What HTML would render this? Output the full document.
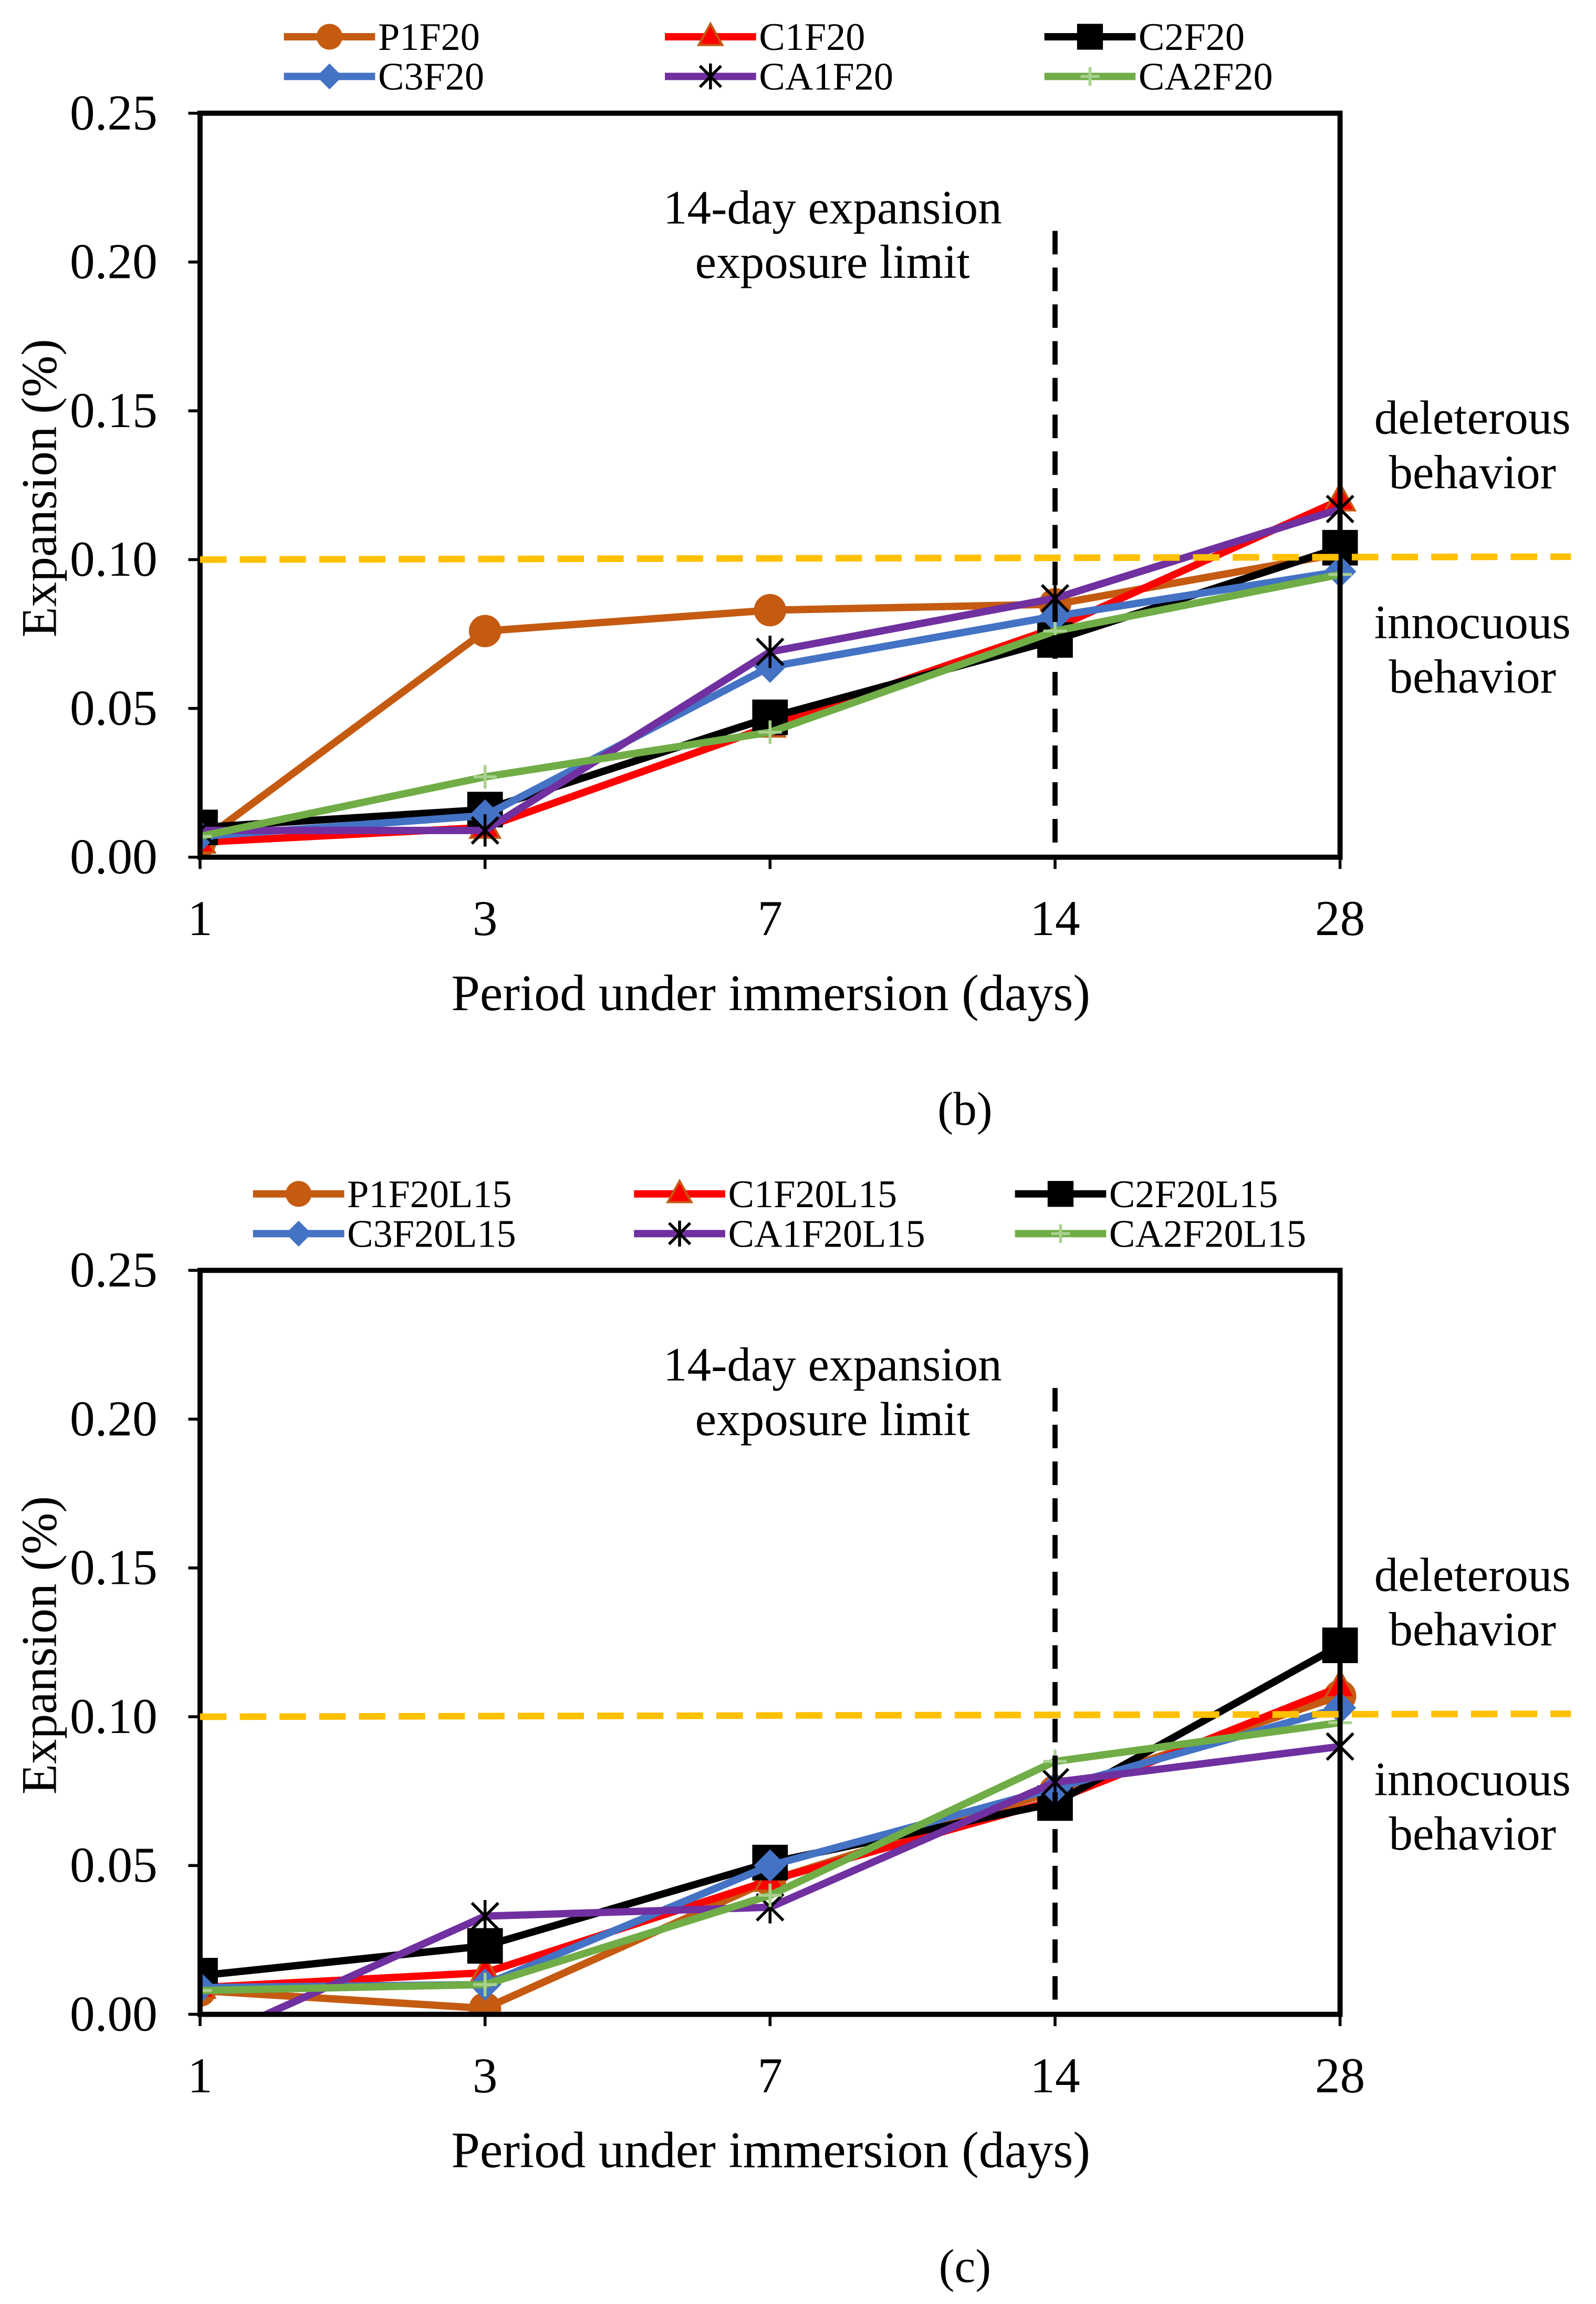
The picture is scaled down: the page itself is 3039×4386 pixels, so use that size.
<!DOCTYPE html>
<html><head><meta charset="utf-8"><style>
html,body{margin:0;padding:0;background:#fff}
svg{display:block}
text{font-family:"Liberation Serif",serif;fill:#000}
</style></head><body>
<svg id="root" width="3039" height="4386" viewBox="0 0 1085 1567" preserveAspectRatio="none" xmlns="http://www.w3.org/2000/svg"></svg>
<script>
const categories = ["1","3","7","14","28"];
const yTicks = [0,0.05,0.10,0.15,0.20,0.25];
const yTickLabels = ["0.00","0.05","0.10","0.15","0.20","0.25"];
const seriesNamesB = ["P1F20","C1F20","C2F20","C3F20","CA1F20","CA2F20"];
const seriesNamesC = ["P1F20L15","C1F20L15","C2F20L15","C3F20L15","CA1F20L15","CA2F20L15"];
const p1B = [0.005,0.076,0.083,0.085,0.102];
const c1B = [0.005,0.010,0.044,0.077,0.120];
const c2B = [0.010,0.016,0.047,0.073,0.104];
const c3B = [0.007,0.014,0.064,0.081,0.096];
const ca1B = [0.009,0.009,0.069,0.087,0.117];
const ca2B = [0.007,0.027,0.042,0.076,0.095];
const p1C = [0.008,0.002,0.045,0.075,0.107];
const c1C = [0.009,0.014,0.045,0.072,0.110];
const c2C = [0.013,0.023,0.051,0.071,0.124];
const c3C = [0.009,0.010,0.050,0.076,0.103];
const ca1C = [-0.010,0.033,0.036,0.078,0.090];
const ca2C = [0.008,0.010,0.040,0.085,0.098];
const limitValue = 0.10;
const limitDayIndex = 3;

const styles = [
 {c:"#C55A11",m:"circle"},{c:"#FF0000",m:"triangle"},{c:"#000000",m:"square"},
 {c:"#4472C4",m:"diamond"},{c:"#7030A0",m:"star"},{c:"#70AD47",m:"plus"}];
const NS="http://www.w3.org/2000/svg";
const root=document.getElementById('root');
function el(tag,attrs,parent,text){const e=document.createElementNS(NS,tag);for(const k in attrs)e.setAttribute(k,attrs[k]);if(text!==undefined)e.textContent=text;(parent||root).appendChild(e);return e;}
function marker(g,type,x,y,col,s){
 s=s||1;let e;
 if(type==="circle")e=el("circle",{cx:x,cy:y,r:11*s,fill:col},g);
 else if(type==="triangle")e=el("polygon",{points:`${x},${y-11*s} ${x+10*s},${y+7*s} ${x-10*s},${y+7*s}`,fill:col,stroke:"#C55A11","stroke-width":1.5},g);
 else if(type==="square")e=el("rect",{x:x-11*s,y:y-11*s,width:22*s,height:22*s,fill:col},g);
 else if(type==="diamond")e=el("polygon",{points:`${x},${y-11*s} ${x+11*s},${y} ${x},${y+11*s} ${x-11*s},${y}`,fill:col},g);
 else if(type==="star"){e=el("path",{d:`M${x-9*s},${y-9*s}L${x+9*s},${y+9*s}M${x+9*s},${y-9*s}L${x-9*s},${y+9*s}M${x},${y-11*s}L${x},${y+11*s}`,stroke:"#000","stroke-width":2},g);}
 else if(type==="plus"){e=el("path",{d:`M${x-8*s},${y}L${x+8*s},${y}M${x},${y-8*s}L${x},${y+8*s}`,stroke:"#A9D18E","stroke-width":2},g);}
 return e;
}
function chart(oy,names,data,legX,label,id){
 const g=el("g",{},root);
 
 
 const x0=136,x1=911,yTop=77+oy,yBot=583+oy;
 const xs=i=>x0+i*(x1-x0)/(categories.length-1);
 const ys=v=>yBot-(v/0.25)*(yBot-yTop);
 const clipId="clip"+id;
 const cp=el("clipPath",{id:clipId},g);el("rect",{x:x0,y:yTop-20,width:x1-x0+20,height:yBot-yTop+20},cp);
 names.forEach((n,i)=>{
  const row=Math.floor(i/3),col=i%3;const lx=legX[col],ly=25+oy+row*27;
  const lg=el("g",{},g);
  
  
  el("line",{x1:lx,y1:ly,x2:lx+62,y2:ly,stroke:styles[i].c,"stroke-width":5},lg);
  marker(lg,styles[i].m,lx+31,ly,styles[i].c,0.8);
  el("text",{x:lx+64,y:ly+9,"font-size":26.5},lg,n);
 });
 yTicks.forEach((t,i)=>{const y=ys(t);el("line",{x1:x0-8,y1:y,x2:x0,y2:y,stroke:"#000","stroke-width":2},g);
  const tx=el("text",{x:x0-29,y:y+11,"font-size":34,"text-anchor":"end"},g,yTickLabels[i]);
  });
 categories.forEach((c,i)=>{const x=xs(i);el("line",{x1:x,y1:yBot,x2:x,y2:yBot+8,stroke:"#000","stroke-width":2},g);
  const tx=el("text",{x:x,y:yBot+53,"font-size":34,"text-anchor":"middle"},g,c);
  });
 const yt=el("text",{x:0,y:0,"font-size":34,"text-anchor":"middle",transform:`translate(38,${(yTop+yBot)/2+2}) rotate(-90)`},g,"Expansion (%)");
 
 const xt=el("text",{x:524,y:yBot+104,"font-size":35,"text-anchor":"middle"},g,"Period under immersion (days)");
 
 const a1=el("text",{x:566,y:yTop+75,"font-size":32.5,"text-anchor":"middle"},g,"14-day expansion");
 
 el("text",{x:566,y:yTop+112,"font-size":32.5,"text-anchor":"middle"},g,"exposure limit");
 const a2=el("text",{x:1001,y:yTop+218,"font-size":32.5,"text-anchor":"middle"},g,"deleterous");
 
 el("text",{x:1001,y:yTop+255,"font-size":32.5,"text-anchor":"middle"},g,"behavior");
 const a3=el("text",{x:1001,y:yTop+357,"font-size":32.5,"text-anchor":"middle"},g,"innocuous");
 
 el("text",{x:1001,y:yTop+394,"font-size":32.5,"text-anchor":"middle"},g,"behavior");
 data.forEach((d,si)=>{
  const sg=el("g",{"clip-path":`url(#${clipId})`},g);
  
  
  el("polyline",{points:d.map((v,i)=>xs(i)+","+ys(v)).join(" "),fill:"none",stroke:styles[si].c,"stroke-width":5,"stroke-linejoin":"round"},sg);
  d.forEach((v,i)=>{marker(sg,styles[si].m,xs(i),ys(v),styles[si].c,si===2?1.1:1);});
 });
 el("rect",{x:x0,y:yTop,width:x1-x0,height:yBot-yTop,fill:"none",stroke:"#000","stroke-width":3.5},g);
 const ll=el("line",{x1:x0,y1:ys(limitValue),x2:1068,y2:ys(limitValue)-2,stroke:"#FFC000","stroke-width":4.5,"stroke-dasharray":"18,9"},g);
 
 const vl=el("line",{x1:xs(limitDayIndex),y1:yTop+80,x2:xs(limitDayIndex),y2:yBot,stroke:"#000","stroke-width":3.5,"stroke-dasharray":"16,9"},g);
 
 const lb=el("text",{x:656,y:yBot+182,"font-size":32,"text-anchor":"middle"},g,label);
 
}
chart(0,seriesNamesB,[p1B,c1B,c2B,c3B,ca1B,ca2B],[193,452,710],"(b)","chart-b");
chart(787,seriesNamesC,[p1C,c1C,c2C,c3C,ca1C,ca2C],[172,431,690],"(c)","chart-c");
</script>
</body></html>
